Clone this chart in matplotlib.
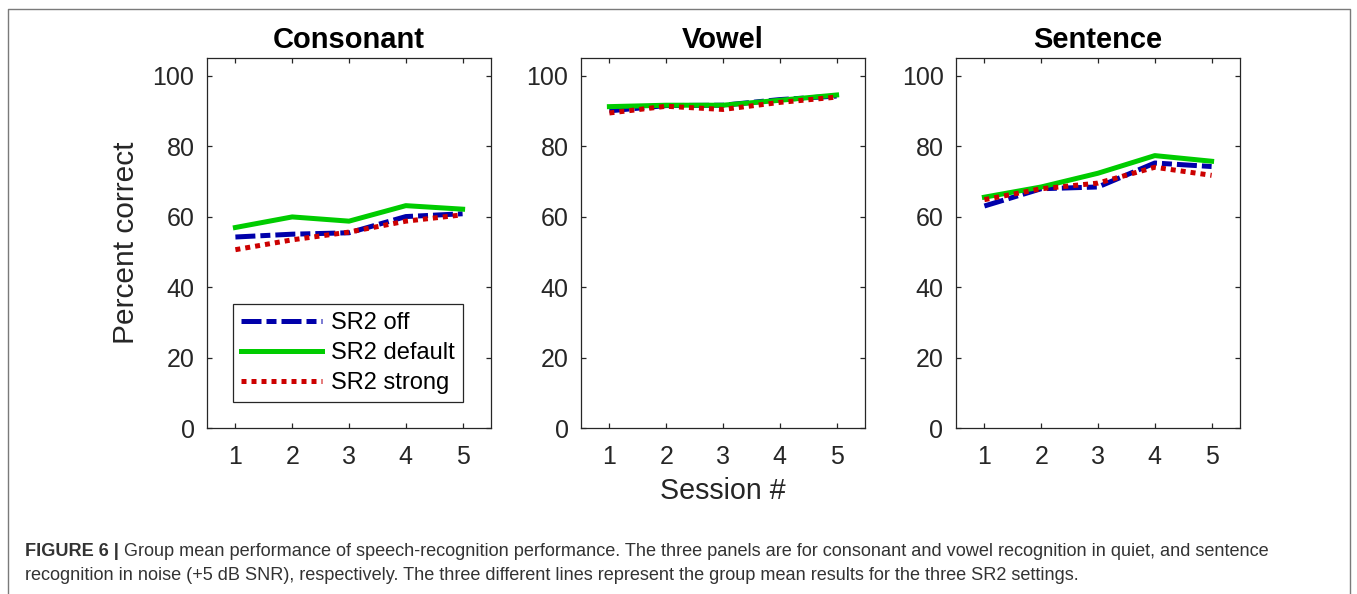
import numpy as np
import matplotlib.pyplot as plt
from matplotlib.lines import Line2D

plt.rcParams['font.family'] = ['Liberation Sans', 'DejaVu Sans']

sessions = [1, 2, 3, 4, 5]
panels = ["Consonant", "Vowel", "Sentence"]
labels = ["SR2 off", "SR2 default", "SR2 strong"]

# group means, percent correct, per panel
sr2_off = [
    [54.2, 55.0, 55.4, 60.0, 60.8],
    [90.0, 91.5, 91.6, 93.2, 94.2],
    [63.0, 67.9, 68.4, 75.2, 74.2],
]
sr2_default = [
    [56.9, 59.9, 58.7, 63.1, 62.1],
    [91.2, 91.6, 91.6, 93.0, 94.5],
    [65.5, 68.4, 72.3, 77.3, 75.7],
]
sr2_strong = [
    [50.6, 53.4, 55.6, 58.7, 60.5],
    [89.4, 91.3, 90.4, 92.4, 93.9],
    [64.8, 67.9, 69.5, 74.0, 71.7],
]

colors = ['#0000aa', '#00cc00', '#cc0000']
styles = [(0, (4, 1, 2, 1)), '-', (0, (1, 1))]
ink = '#262626'

W, H = 1357, 594
fig = plt.figure(figsize=(W / 100, H / 100), dpi=100)

lefts = [207, 581, 956]
ax_w, top, bottom = 284, 58, 428
axes = []
for i, name in enumerate(panels):
    ax = fig.add_axes([lefts[i] / W, 1 - bottom / H, ax_w / W, (bottom - top) / H])
    for series, col, ls, lab in zip((sr2_off, sr2_default, sr2_strong),
                                    colors, styles, labels):
        ax.plot(sessions, series[i], color=col, linestyle=ls, lw=3.6,
                dash_capstyle='butt', label=lab)
    ax.set_xlim(0.5, 5.5)
    ax.set_ylim(0, 105)
    ax.set_xticks(sessions)
    ax.set_yticks([0, 20, 40, 60, 80, 100])
    ax.tick_params(direction='in', top=True, right=True, length=3.5,
                   width=0.9, colors=ink, labelsize=18)
    ax.tick_params(axis='x', pad=12)
    ax.tick_params(axis='y', pad=9)
    for sp in ax.spines.values():
        sp.set_color(ink)
        sp.set_linewidth(0.9)
    ax.set_title(name, fontsize=21, fontweight='bold', pad=7, color='black')
    axes.append(ax)

axes[0].set_ylabel("Percent correct", fontsize=21.5, color=ink, labelpad=9)
fig.text(723 / W, 1 - 491 / H, "Session #", fontsize=20.6, color=ink,
         ha='center', va='center')

leg = axes[0].legend(loc='lower left', bbox_to_anchor=(0.0915, 0.07),
                     borderaxespad=0, fontsize=17, handlelength=3.4,
                     labelspacing=0.33, fancybox=False, framealpha=1,
                     borderpad=0.35, handletextpad=0.42)
leg.get_frame().set_edgecolor(ink)
leg.get_frame().set_linewidth(0.9)
for t in leg.get_texts():
    t.set_color('black')

# outer frame, open at the bottom
fx0, fx1, fy1 = 8 / W, 1350 / W, 1 - 9 / H
fig.add_artist(Line2D([fx0, fx0, fx1, fx1], [0, fy1, fy1, 0],
                      transform=fig.transFigure, color='#7a7a7a', lw=1.0))

# caption
cap_x = 25 / W
cap_fs = 13.1
head = fig.text(cap_x, 1 - 551 / H, "FIGURE 6 | ", fontsize=cap_fs,
                fontweight='bold', color='#333333', va='center')
fig.canvas.draw()
bb = head.get_window_extent().transformed(fig.transFigure.inverted())
fig.text(bb.x1, 1 - 551 / H,
         "Group mean performance of speech-recognition performance. The three panels "
         "are for consonant and vowel recognition in quiet, and sentence",
         fontsize=cap_fs, color='#333333', va='center')
fig.text(cap_x, 1 - 576 / H,
         "recognition in noise (+5 dB SNR), respectively. The three different lines "
         "represent the group mean results for the three SR2 settings.",
         fontsize=cap_fs, color='#333333', va='center')

fig.savefig("out.png", dpi=100)
